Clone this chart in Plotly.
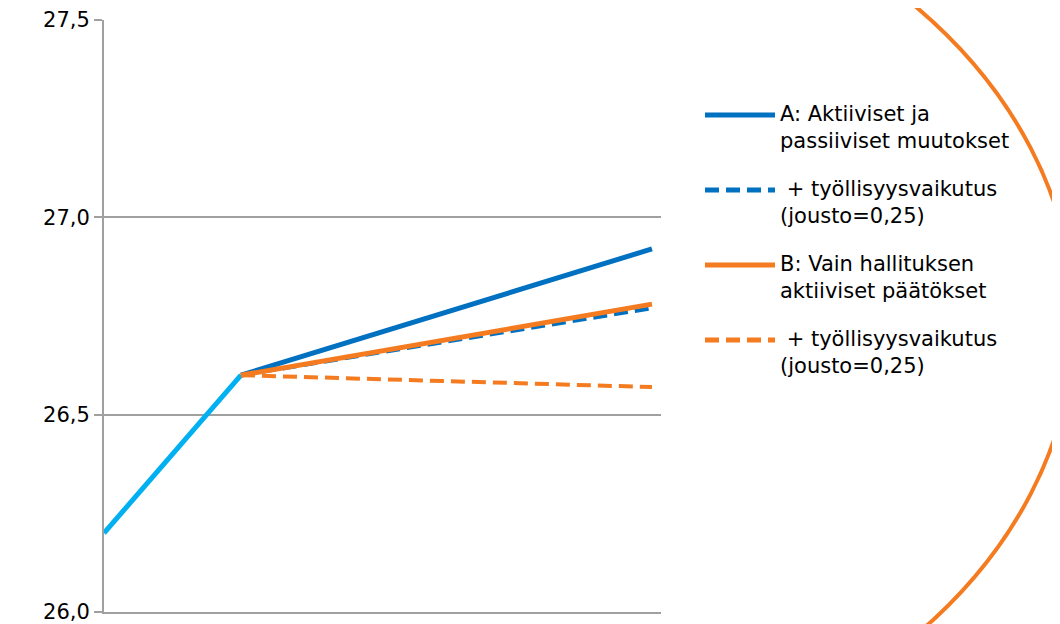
import plotly.graph_objects as go

# x positions (years from start) and values
x_hist = [0, 1]
y_hist = [26.2, 26.6]
x_proj = [1, 4]
a_active = [26.6, 26.92]
a_employ = [26.6, 26.77]
b_active = [26.6, 26.78]
b_employ = [26.6, 26.57]

legend_labels = ["A: Aktiiviset ja<br>passiiviset muutokset",
                 " + työllisyysvaikutus<br>(jousto=0,25)",
                 "B: Vain hallituksen<br>aktiiviset päätökset",
                 " + työllisyysvaikutus<br>(jousto=0,25)"]

BLUE = "#0070C0"
LIGHT = "#00B0F0"
ORANGE = "#F47B20"
DASH = "14px,7px"

fig = go.Figure()
fig.add_trace(go.Scatter(x=x_hist, y=y_hist, mode="lines", line=dict(color=LIGHT, width=5)))
fig.add_trace(go.Scatter(x=x_proj, y=a_employ, mode="lines", line=dict(color=BLUE, width=4, dash=DASH)))
fig.add_trace(go.Scatter(x=x_proj, y=a_active, mode="lines", line=dict(color=BLUE, width=5)))
fig.add_trace(go.Scatter(x=x_proj, y=b_employ, mode="lines", line=dict(color=ORANGE, width=4, dash=DASH)))
fig.add_trace(go.Scatter(x=x_proj, y=b_active, mode="lines", line=dict(color=ORANGE, width=5)))

W, H = 1060, 624
L, R, T, B = 96, 407, 12, 20
pw, ph = W - L - R, H - T - B
OX, OY = 7, 8  # page offset of the figure in the screenshot


def px(X):
    return (X - OX - L) / pw


def py(Y):
    return (H - B - (Y - OY)) / ph


# big orange ellipse decoration
fig.add_shape(type="circle", xref="paper", yref="paper", layer="below",
              x0=px(453 - 620), x1=px(453 + 620), y0=py(321 + 471), y1=py(321 - 471),
              line=dict(color=ORANGE, width=4))

# hand-made legend
styles = [(BLUE, "solid"), (BLUE, DASH), (ORANGE, "solid"), (ORANGE, DASH)]
rows = [115, 190, 265, 340]
for (col, dash), yy, lab in zip(styles, rows, legend_labels):
    fig.add_shape(type="line", xref="paper", yref="paper", x0=px(704), x1=px(774),
                  y0=py(yy), y1=py(yy), line=dict(color=col, width=5, dash=dash))
    fig.add_annotation(xref="paper", yref="paper", x=px(777), y=py(yy - 15), text=lab,
                       showarrow=False, xanchor="left", yanchor="top", align="left",
                       font=dict(size=21, color="black"))

fig.update_layout(
    width=W, height=H, margin=dict(l=L, r=R, t=T, b=B),
    plot_bgcolor="white", paper_bgcolor="white", showlegend=False,
    separators=", ",
    font=dict(family="DejaVu Sans, Liberation Sans, Arial", size=21, color="black"),
)
fig.update_xaxes(range=[0, 4.066], showticklabels=False, showgrid=False, zeroline=False,
                 showline=True, linecolor="#A0A0A0", linewidth=2, automargin=False)
fig.update_yaxes(range=[26.0, 27.5], tickvals=[26.0, 26.5, 27.0, 27.5], tickformat=".1f",
                 showgrid=True, gridcolor="#A0A0A0", gridwidth=1.5, zeroline=False,
                 showline=True, linecolor="#A0A0A0", linewidth=2, automargin=False,
                 ticks="outside", ticklen=8, tickcolor="#A0A0A0", tickwidth=1.5)

fig.write_html("out.html")
